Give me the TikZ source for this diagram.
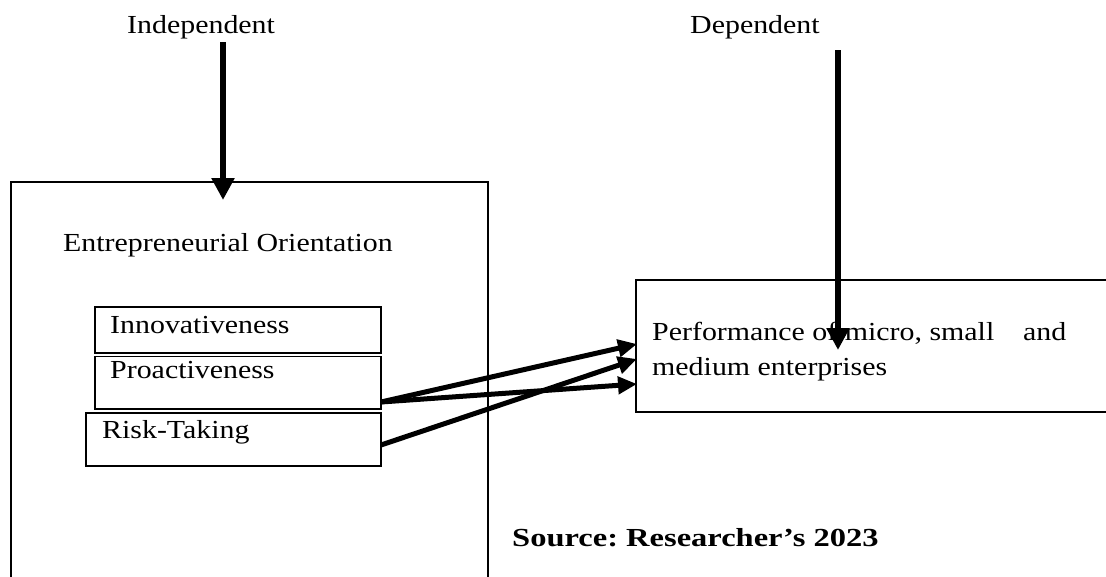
\documentclass[tikz,border=0pt]{standalone}
\usepackage{fontspec}
\setmainfont{Liberation Serif}[FakeStretch=1.15, BoldFeatures={FakeStretch=1.25}]
\usetikzlibrary{arrows.meta}
\frenchspacing
\begin{document}
\begin{tikzpicture}[x=1pt,y=-1pt,
  frame/.style={draw, line width=1.8pt},
  txt/.style={font=\fontsize{26}{30}\selectfont, inner sep=0pt, anchor=base west},
  srctxt/.style={font=\bfseries\fontsize{26}{30}\selectfont, inner sep=0pt, anchor=base west},
  thick arrow/.style={line width=6pt, -{Triangle[length=22pt,width=22pt]}},
  link arrow/.style={line width=5pt, -{Triangle[length=19pt,width=17pt]}}]
  \useasboundingbox (0,0) rectangle (1106,576);
  \clip (0,0) rectangle (1106,576);

  % headings
  \node[txt] (indep) at (127,33) {Independent};
  \node[txt] (dep) at (690,33) {Dependent};

  % outer construct box (runs past the lower edge)
  \draw[frame] (11,182) rectangle (488,600);
  \node[txt] (eo) at (63,251) {Entrepreneurial Orientation};

  % dimension boxes
  \draw[frame] (95,307) rectangle (381,353);
  \draw[frame] (95,356.5) rectangle (381,409);
  \draw[frame] (86,413) rectangle (381,466);
  \node[txt] (innov) at (110,333) {Innovativeness};
  \node[txt] (proact) at (110,378) {Proactiveness};
  \node[txt] (risk) at (102,438) {Risk-Taking};

  % outcome box (runs past the right edge)
  \draw[frame] (636,280) rectangle (1130,412);
  \node[txt] (perf1) at (652,340) {Performance of micro, small};
  \node[txt] (perfand) at (1023,340) {and};
  \node[txt] (perf2) at (652,375) {medium enterprises};

  \node[srctxt] (src) at (512,546) {Source: Researcher’s 2023};

  % connectors
  \coordinate (indtop) at (223,42);
  \coordinate (indtip) at (223,200);
  \coordinate (deptop) at (838,50);
  \coordinate (deptip) at (838,350);
  \coordinate (pout) at (381,402);
  \coordinate (rout) at (381,445);
  \coordinate (tipA) at (637,344);
  \coordinate (tipB) at (637,359);
  \coordinate (tipC) at (637,384);

  \draw[thick arrow] (indtop) -- (indtip);
  \draw[thick arrow] (deptop) -- (deptip);
  \draw[link arrow] (pout) -- (tipA);
  \draw[link arrow] (pout) -- (tipC);
  \draw[link arrow] (rout) -- (tipB);
\end{tikzpicture}
\end{document}
